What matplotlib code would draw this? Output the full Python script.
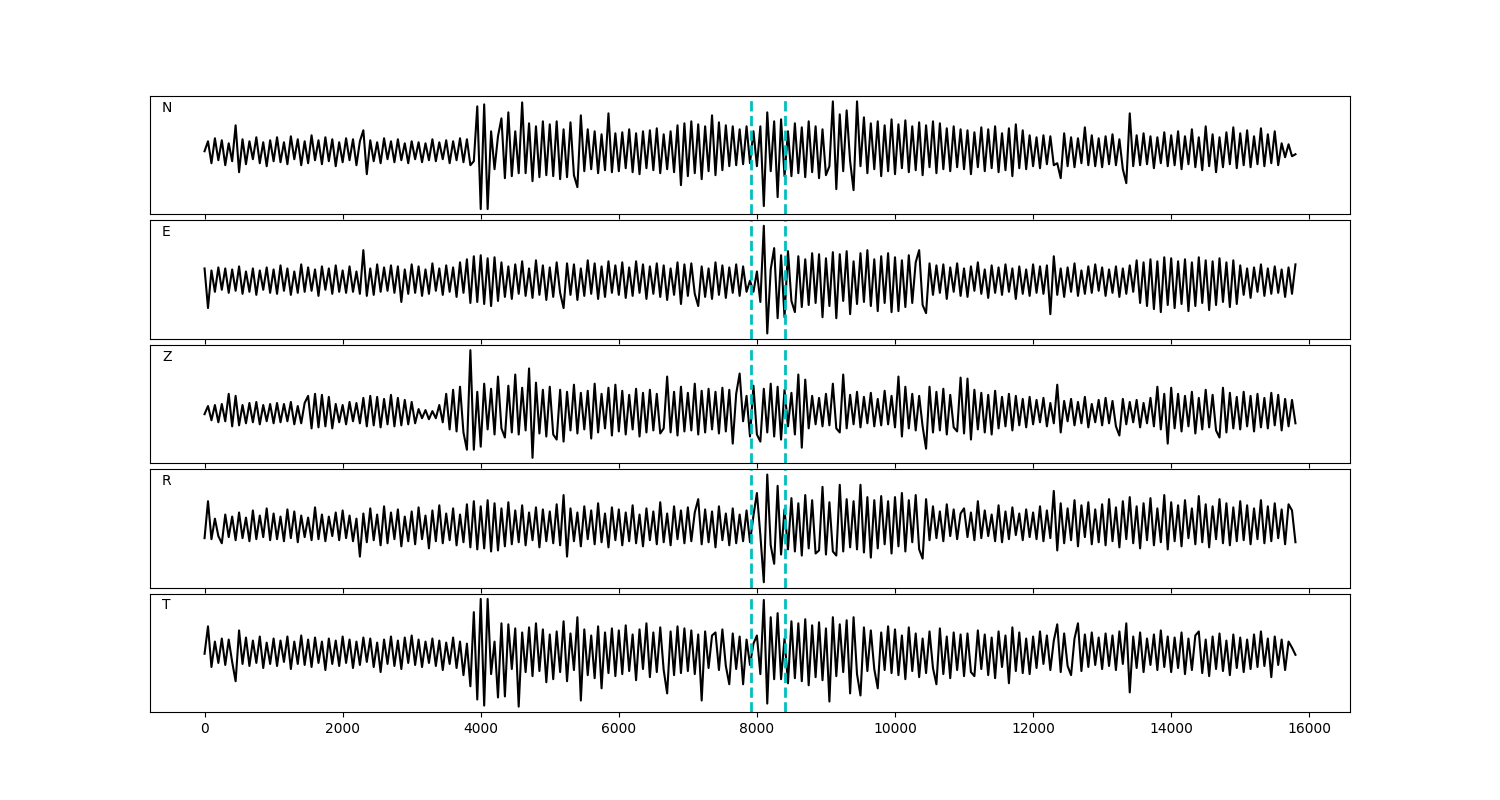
import matplotlib
matplotlib.use('Agg')
from matplotlib import pyplot as plt
import numpy as np

# Five-component waveform plot (N, E, Z, R, T) with two picks

dt = 50  # samples between the values
picks = [7910, 8400]
components = ['N', 'E', 'Z', 'R', 'T']

n_trace = [
    0, 10, -12, 13, -9, 11, -14, 8, -10, 26, -21, 12, -13, 10, -8, 14, -12, 9, -15, 11,
    -10, 14, -11, 9, -13, 15, -8, 12, -14, 10, -12, 16, -9, 11, -13, 14, -10, 12, -15, 9,
    -11, 13, -9, 12, -14, 10, 21, -23, 11, -10, 9, -12, 13, -8, 10, -11, 12, -9, 8, -12,
    10, -8, 9, -11, 8, -9, 12, -10, 9, -8, 11, -12, 10, -9, 13, -11, 12, -14, -10, 45,
    -58, 47, -58, 20, -18, 15, 33, -27, 39, -25, 20, -22, 49, -22, 28, -30, 25, -26, 30, -24,
    27, -25, 30, -28, 22, -26, 29, -24, -36, 36, -20, 22, -18, 20, -22, 17, -19, 38, -21, 18,
    -20, 19, -17, 22, -21, 18, -23, 20, -17, 21, -19, 23, -22, 17, -18, 20, -21, 26, -34, 28,
    -25, 30, -22, 27, -28, 25, -20, 36, -24, 29, -19, 26, -15, 25, -14, 22, -13, 25, -12, 20,
    -15, 25, -55, 39, -20, 30, -46, 32, -25, 20, -25, 28, -22, 24, -26, 30, -21, 25, -27, 22,
    -24, -15, 50, -38, 37, -20, 41, -10, -39, 50, -15, 34, -22, 28, -18, 30, -25, 26, -20, 32,
    -23, 27, -17, 31, -21, 25, -19, 29, -24, 26, -16, 30, -22, 28, -18, 23, -20, 25, -16, 22,
    -18, 21, -23, 19, -16, 24, -20, 22, -17, 25, -21, 18, -19, 23, -25, 27, -17, 21, -18, 16,
    -15, 14, -17, 16, -13, 15, -14, -12, -27, 18, -15, 14, -16, 13, -12, 24, -14, 16, -15, 13,
    -16, 15, -13, 17, -14, 12, -18, -32, 38, -15, 16, -14, 18, -13, 15, -17, 14, -12, 19, -15,
    16, -14, 20, -18, 15, -13, 22, -16, 14, -19, 25, -15, 17, -21, 14, -16, 19, -13, 24, -17,
    18, -14, 21, -16, 15, -13, 23, -15, 17, -12, 20, -14, 8, -6, 7, -5, -3,
]

e_trace = [
    12, -27, 10, -11, 13, -9, 12, -12, 11, -10, 14, -13, 9, -11, 12, -14, 10, -9, 13, -12,
    11, -13, 15, -10, 12, -14, 9, -12, 16, -11, 13, -10, 11, -15, 14, -9, 12, -13, 15, -11,
    10, -12, 14, -11, 9, -13, 30, -15, 12, -14, 16, -11, 13, -10, 15, -12, 14, -21, 11, -13,
    16, -12, 14, -15, 11, -13, 17, -10, 12, -14, 15, -11, 13, -16, 18, -12, 21, -22, 24, -21,
    25, -23, 22, -25, 23, -20, 18, -16, 14, -18, 16, -13, 19, -15, 12, -17, 20, -14, 15, -19,
    13, -16, 18, -12, -27, 17, -14, 16, -19, 12, -15, 20, -13, 17, -18, 14, -16, 19, -12, 15,
    -14, 18, -17, 13, -15, 19, -12, 16, -18, 14, -13, 17, -16, 15, -19, 12, -14, 18, -23, 16,
    -15, 17, -13, -25, 14, -16, 12, -18, 18, -14, 15, -17, 13, -12, 16, -15, 14, -11, 0, -11,
    9, -21, 54, -52, 11, 32, -37, 25, -36, 29, -20, -31, 24, -26, 21, -24, 27, -22, 26, -36,
    22, -25, 28, -37, 26, -20, 29, -33, 19, -23, 27, -21, 30, -25, 21, -30, 24, -22, 27, -31,
    23, -30, 20, -26, 25, -22, 18, 30, -24, -32, 17, -14, 15, -12, 16, -18, 13, -11, 17, -15,
    12, -16, 14, -10, 18, -13, 11, -17, 15, -12, 13, -14, 16, -11, 12, -18, 14, -13, 11, -15,
    16, -12, 14, -13, 15, -33, 24, -14, 12, -16, 13, -11, 17, -15, 10, -13, 14, -12, 16, -10,
    13, -15, 11, -12, 14, -16, 12, -13, 15, -11, 20, -22, 18, -25, 21, -28, 19, -31, 23, -24,
    22, -27, 19, -23, 21, -30, 18, -25, 23, -22, 20, -29, 19, -24, 22, -21, 18, -26, 20, -23,
    15, -14, 12, -17, 13, -11, 16, -15, 12, -13, 14, -12, 11, -16, 13, -13, 16,
]

z_trace = [
    0, 8, -6, 9, -8, 10, -7, 20, -12, 18, -11, 9, -9, 11, -8, 12, -10, 9, -7, 10,
    -9, 11, -8, 10, -7, 12, -10, 8, -9, 11, 18, -14, 20, -13, 19, -12, 17, -14, 10, -8,
    9, -10, 12, -7, 11, -9, 16, -12, 18, -11, 17, -13, 15, -10, 19, -12, 16, -11, 14, -10,
    12, -9, 5, -4, 4, -5, 3, -4, 9, -8, 20, -15, 24, -17, 27, -18, -35, 63, -35, 22,
    -32, 30, -15, 25, -20, 37, -14, -23, 28, -18, 39, -20, 26, -16, 45, -43, 31, -19, 24, -22,
    27, -20, -25, 24, -27, 22, -16, 29, -19, 21, -15, 23, -24, 30, -18, 20, -14, 26, -21, 29,
    -17, 23, -20, 19, -15, 25, -22, 21, -18, 24, -16, 20, -19, -14, 37, -18, 22, -21, 27, -17,
    21, -16, 30, -20, 23, -18, 25, -15, 22, -19, 26, -17, 24, -29, 20, 40, -7, 18, -22, 28,
    -20, -27, 25, -18, 30, -22, 27, -25, 24, -12, 21, -20, 39, -33, 34, -14, 18, -10, 16, -12,
    20, -11, 30, -14, -18, 39, -14, 19, -10, 22, -13, 17, -9, 21, -12, 15, -11, 23, -10, 18,
    -13, 37, -22, 27, -14, 20, -16, 18, -12, -34, 27, -18, 22, -16, 25, -20, 19, -13, -17, 36,
    -19, 35, -25, 24, -15, 21, -18, 19, -20, 23, -14, 17, -12, 20, -16, 18, -11, 15, -13, 17,
    -10, 14, -8, 16, -12, 11, -9, 29, -18, 13, -7, 15, -11, 12, -9, 17, -13, 10, -8, 14,
    -11, 16, -9, 13, -12, -21, 15, -10, 12, -8, 14, -13, 11, -9, 16, -12, 27, -15, 20, -29,
    26, -14, 20, -17, 18, -12, 22, -19, 16, -15, 24, -13, 19, -16, -23, 26, -18, 21, -14, 17,
    -15, 22, -12, 18, -17, 20, -13, 16, -14, 21, -11, 19, -16, 15, -12, 14, -9,
]

r_trace = [
    -7, 29, -8, 12, -5, -12, 16, -6, 14, -9, 18, -7, 13, -10, 20, -8, 15, -6, 22, -9,
    17, -8, 14, -10, 21, -7, 19, -11, 15, -6, 13, -9, 23, -8, 16, -10, 14, -5, 18, -9,
    20, -7, 15, -10, 12, -25, 17, -11, 22, -9, 16, -14, 24, -12, 18, -8, 21, -15, 14, -10,
    19, -13, 23, -8, 15, -17, 20, -10, 25, -12, 17, -9, 22, -14, 16, -11, 26, -16, 29, -18,
    24, -17, 30, -20, 27, -19, 22, -15, 28, -13, 20, -11, 25, -14, 18, -9, 23, -16, 21, -10,
    19, -12, 26, -14, 35, -25, 22, -10, 18, -15, 24, -8, 20, -13, 27, -11, 17, -16, 23, -9,
    21, -14, 18, -10, 25, -12, 16, -15, 22, -9, 19, -13, 28, -11, 17, -14, 24, -8, 20, -12,
    23, -10, 18, 31, -13, 21, -11, 19, -16, 24, -9, 17, -14, 22, -12, 16, -10, 20, -11, 15,
    37, -4, -50, 55, -14, -32, 44, -23, 21, -18, 32, -20, 27, -24, 35, -17, 30, -22, -19, 43,
    -23, 28, -20, -24, 45, -20, 31, -16, 29, -18, 45, -21, 33, -26, 30, -17, 34, -13, 29, -22,
    33, -15, 37, -20, 30, -11, 35, -18, -27, 31, -9, 24, -7, 19, -10, 26, -5, 21, -8, 17,
    22, -6, 18, -9, 29, -7, 20, -5, 16, -10, 25, -11, 19, -8, 23, -4, 17, -9, 21, -6,
    18, -8, 24, -10, 20, -7, 39, -19, 27, -12, 22, -9, 30, -15, 25, -6, 28, -13, 21, -11,
    26, -14, 31, -10, 23, -16, 29, -8, 33, -12, 24, -17, 27, -9, 32, -14, 22, -11, 35, -18,
    28, -10, 25, -15, 30, -7, 22, -13, 34, -11, 26, -16, 24, -8, 31, -12, 27, -14, 23, -10,
    29, -9, 25, -13, 22, -8, 30, -12, 24, -10, 27, -7, 21, -13, 26, 20, -11,
]

t_trace = [
    0, 27, -13, 12, -9, 15, -11, 14, -8, -27, 23, -10, 16, -12, 13, -9, 17, -14, 11, -10,
    15, -12, 13, -8, 17, -15, 12, -10, 18, -11, 14, -13, 16, -9, 12, -16, 15, -10, 13, -12,
    17, -9, 14, -14, 12, -11, 16, -8, 15, -13, 11, -18, 14, -10, 17, -12, 13, -15, 16, -9,
    18, -11, 14, -13, 12, -9, 15, -12, 13, -16, 11, -10, 16, -14, 12, -21, 10, -32, 41, -45,
    54, -51, 54, -20, 12, -43, 30, -42, 29, -15, 25, -52, 21, -18, 26, -22, 30, -17, 24, -28,
    19, -25, 22, -18, 32, -27, 20, -16, 36, -46, 24, -21, 18, -24, 27, -34, 21, -19, 25, -22,
    23, -20, 28, -17, 19, -26, 24, -15, 30, -23, 21, -18, 26, -16, -39, 22, -21, 27, -19, 25,
    -17, 23, -20, 19, -46, 22, -14, 18, 21, -16, 24, -12, -30, 20, -15, 17, -30, 14, -11, 10,
    18, -20, 53, -49, 36, -25, 40, -25, 15, -29, 32, -24, 30, -27, 34, -31, 28, -23, 31, -26,
    25, -47, 36, -22, 29, -18, 33, -39, 36, -20, -41, 26, -17, 23, -15, -34, 21, -16, 27, -19,
    24, -21, 18, -25, 26, -17, 20, -23, 15, -19, 22, -14, -30, 25, -20, 17, -24, 21, -16, 19,
    -22, 20, -18, -22, 23, -15, 19, -21, 16, -24, 22, -13, 18, -29, 26, -17, 21, -19, 15, -20,
    17, -14, 22, -10, 18, -16, 13, 29, -18, 20, -12, -21, 15, 30, -17, 19, -13, 21, -11, 16,
    -15, 20, -12, 18, -16, 22, -10, 30, -38, 17, -14, 21, -18, 15, -11, 19, -16, 23, -13, 17,
    -18, 16, -14, 21, -20, 15, -16, 18, 22, -19, 14, -22, 17, -15, 20, -17, 13, -21, 19, -14,
    16, -18, 14, -15, 19, -13, 22, -12, 15, -23, 17, -11, 14, -16, 12, 6, -1,
]

traces = [n_trace, e_trace, z_trace, r_trace, t_trace]

fig, axes = plt.subplots(5, 1, sharex=True, figsize=(15, 8))
plt.subplots_adjust(left=0.1, right=0.9, bottom=0.11, top=0.88, hspace=0.05)

for ax, name, trace in zip(axes, components, traces):
    samples = np.arange(len(trace)) * dt
    ax.plot(samples, trace, color='k', linewidth=1.5)
    for p in picks:
        ax.axvline(p, color='c', linestyle='--', linewidth=2)
    ax.text(0.01, 0.9, name, transform=ax.transAxes, va='center', fontsize=10)
    ax.set_yticks([])

plt.savefig('out.png', dpi=100)
